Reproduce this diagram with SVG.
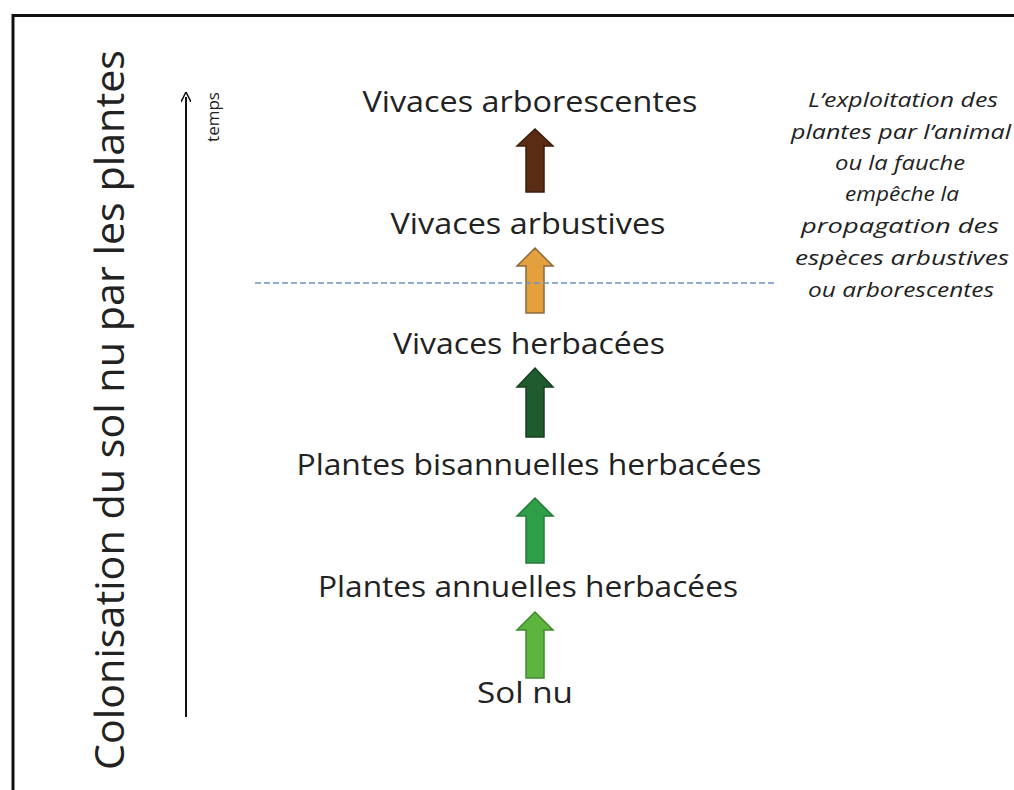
<svg xmlns="http://www.w3.org/2000/svg" width="1014" height="790" viewBox="0 0 1014 790">
  <style>
    .lbl { font-family: "Open Sans", "Liberation Sans", sans-serif; font-size: 30px; font-weight: 500; fill: #222; text-anchor: middle; }
    .note { font-family: "Open Sans", "Liberation Sans", sans-serif; font-size: 20px; font-style: italic; font-weight: 400; fill: #222; text-anchor: middle; }
    .arr { stroke-width: 1.5; stroke-linejoin: miter; }
  </style>
  <defs>
    <marker id="tip" markerWidth="10" markerHeight="10" refX="5" refY="5" orient="auto" markerUnits="userSpaceOnUse">
      <path d="M0,0 L10,5 L0,10" fill="none" stroke="#111" stroke-width="1.5"/>
    </marker>
  </defs>
  <rect x="0" y="0" width="1014" height="790" fill="#fff"/>
  <rect id="frame" x="13" y="15.5" width="1010" height="800" fill="none" stroke="#111" stroke-width="3"/>

  <g id="title">
    <text transform="translate(124,410) rotate(-90)" font-family="Open Sans, Liberation Sans, sans-serif" font-size="40" font-weight="500" fill="#222" text-anchor="middle" textLength="720" lengthAdjust="spacingAndGlyphs">Colonisation du sol nu par les plantes</text>
  </g>

  <g id="time-axis">
    <line x1="186" y1="717" x2="186" y2="97" stroke="#111" stroke-width="2" marker-end="url(#tip)"/>
    <text transform="translate(219,117) rotate(-90)" font-family="Open Sans, Liberation Sans, sans-serif" font-size="17" fill="#222" text-anchor="middle">temps</text>
  </g>

  <g id="node-arborescentes"><text class="lbl" x="530" y="112" textLength="335" lengthAdjust="spacingAndGlyphs">Vivaces arborescentes</text></g>
  <g id="node-arbustives"><text class="lbl" x="528" y="234" textLength="275" lengthAdjust="spacingAndGlyphs">Vivaces arbustives</text></g>
  <g id="node-herbacees"><text class="lbl" x="529" y="354" textLength="272" lengthAdjust="spacingAndGlyphs">Vivaces herbacées</text></g>
  <g id="node-bisannuelles"><text class="lbl" x="529" y="475" textLength="465" lengthAdjust="spacingAndGlyphs">Plantes bisannuelles herbacées</text></g>
  <g id="node-annuelles"><text class="lbl" x="528" y="597" textLength="420" lengthAdjust="spacingAndGlyphs">Plantes annuelles herbacées</text></g>
  <g id="node-solnu"><text class="lbl" x="525" y="703" textLength="96" lengthAdjust="spacingAndGlyphs">Sol nu</text></g>

  <g id="connectors">
    <path class="arr" d="M535,612 L553,630 L544,630 L544,678 L526,678 L526,630 L517,630 Z" fill="#5db43f" stroke="#3f8a2c"/>
    <path class="arr" d="M535,498 L553,516 L544,516 L544,563 L526,563 L526,516 L517,516 Z" fill="#2f9e48" stroke="#257a38"/>
    <path class="arr" d="M535,368 L553,387 L544,387 L544,437 L526,437 L526,387 L517,387 Z" fill="#1e5c2d" stroke="#173f20"/>
    <path class="arr" d="M535,248 L553,266 L544,266 L544,313 L526,313 L526,266 L517,266 Z" fill="#e3a03c" stroke="#8a6a40"/>
    <path class="arr" d="M535,129 L553,146 L544,146 L544,192 L526,192 L526,146 L517,146 Z" fill="#5b2c14" stroke="#3a1c0c"/>
  </g>

  <g id="limit">
    <line x1="255" y1="283" x2="775" y2="283" stroke="#6f93c6" stroke-width="1.6" stroke-dasharray="6,3"/>
  </g>

  <g id="note">
    <text class="note" x="903" y="107" textLength="190" lengthAdjust="spacingAndGlyphs">L’exploitation des</text>
    <text class="note" x="901" y="139" textLength="220" lengthAdjust="spacingAndGlyphs">plantes par l’animal</text>
    <text class="note" x="900" y="170" textLength="130" lengthAdjust="spacingAndGlyphs">ou la fauche</text>
    <text class="note" x="902" y="201" textLength="114" lengthAdjust="spacingAndGlyphs">empêche la</text>
    <text class="note" x="900" y="233" textLength="198" lengthAdjust="spacingAndGlyphs">propagation  des</text>
    <text class="note" x="902" y="265" textLength="214" lengthAdjust="spacingAndGlyphs">espèces arbustives</text>
    <text class="note" x="901" y="297" textLength="186" lengthAdjust="spacingAndGlyphs">ou arborescentes</text>
  </g>
</svg>
